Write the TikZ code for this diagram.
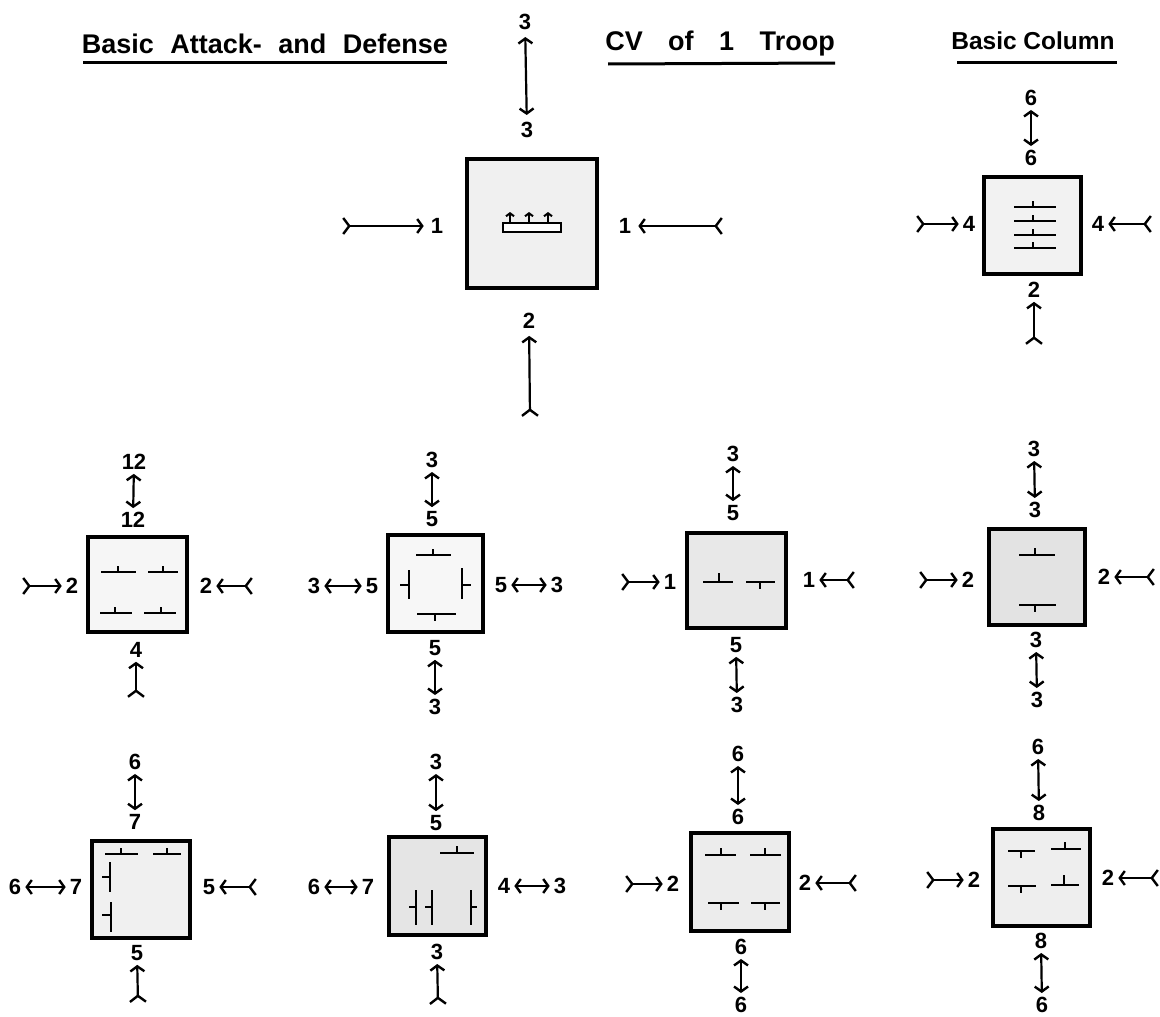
\documentclass[tikz,border=0pt]{standalone}
\usepackage{fontspec}
\setmainfont{Liberation Sans}
\usetikzlibrary{arrows.meta}
\tikzset{
 lab/.style={inner sep=4pt,font=\fontsize{22}{22}\selectfont\bfseries},
 biglab/.style={lab,inner sep=7pt},
 title/.style={inner sep=0pt,font=\fontsize{27}{27}\selectfont\bfseries},
 unitbox/.style={draw=black,line width=3.2pt,fill=#1},
 rule/.style={line width=3pt},
 sym/.style={line width=2.8pt},
 dbl/.style={line width=2.2pt,{Straight Barb[length=5pt,width=14pt,line width=2.4pt]}-{Straight Barb[length=5pt,width=14pt,line width=2.4pt]}},
 tailed/.style={line width=2.2pt,{Straight Barb[reversed,length=6pt,width=16pt,line width=2.4pt]}-{Straight Barb[length=5pt,width=14pt,line width=2.4pt]}}
}
% horizontal bar x1..x2 at y with a stem at xs reaching to ye
\newcommand\hb[5]{\draw[sym] (#1,#3)--(#2,#3) (#4,#3)--(#4,#5);}
% vertical bar y1..y2 at x with a stem at ys reaching to xe
\newcommand\vb[5]{\draw[sym] (#3,#1)--(#3,#2) (#3,#4)--(#5,#4);}
\begin{document}
\begin{tikzpicture}[x=1pt,y=-1pt]
\useasboundingbox (0,0) rectangle (1160,1017);
\fill[white] (0,0) rectangle (1160,1017);
% titles
\node[title] (t1) at (265,44) {Basic\hspace{9pt} Attack-\hspace{9pt} and\hspace{9pt} Defense};
\node[title] (t2) at (720,44) {CV\hspace{18pt} of\hspace{18pt} 1\hspace{18pt} Troop};
\node[title,font=\fontsize{24.5}{24.5}\selectfont\bfseries] (t3) at (1033,41) {Basic Column};
\draw[rule] (83,62)--(447,62);
\draw[rule] (608,64)--(835,63);
\draw[rule] (957,62)--(1117,62);
% top centre
\draw[unitbox=gray!12] (467,159) rectangle (597,288);
\node[biglab] (Tt) at (525,22) {3};
\node[biglab] (Tu) at (527,130) {3};
\draw[dbl] (Tt)--(Tu);
\node[biglab] (Tb) at (529,321) {2};
\coordinate (Tb0) at (530,417);
\draw[tailed] (Tb0)--(Tb);
\node[biglab] (Tl) at (437,226) {1};
\coordinate (Tl0) at (342,226);
\draw[tailed] (Tl0)--(Tl);
\node[biglab] (Tr) at (625,226) {1};
\coordinate (Tr0) at (723,226);
\draw[tailed] (Tr0)--(Tr);
\draw[line width=2.4pt,fill=white] (503,223) rectangle (561,232);
\foreach \x in {510,529,548}{\draw[line width=2pt,-{Straight Barb[length=3pt,width=8pt,line width=2pt]}] (\x,223)--(\x,212);}
% top right
\draw[unitbox=gray!10] (984,177) rectangle (1081,274);
\node[lab] (Rt) at (1031,98) {6};
\node[lab] (Ru) at (1031,158) {6};
\draw[dbl] (Rt)--(Ru);
\node[lab] (Rb) at (1034,290) {2};
\coordinate (Rb0) at (1034,345);
\draw[tailed] (Rb0)--(Rb);
\node[lab] (Rl) at (969,224) {4};
\coordinate (Rl0) at (916,224);
\draw[tailed] (Rl0)--(Rl);
\node[lab] (Rr) at (1098,224) {4};
\coordinate (Rr0) at (1152,224);
\draw[tailed] (Rr0)--(Rr);
\foreach \y in {207,221,235,248}{\hb{1014}{1056}{\y}{1033}{\y-6}}
% A
\draw[unitbox=gray!7] (88,537) rectangle (187,632);
\node[lab] (At) at (134,462) {12};
\node[lab] (Au) at (133,520) {12};
\draw[dbl] (At)--(Au);
\node[lab] (Ab) at (136,650) {4};
\coordinate (Ab0) at (136,698);
\draw[tailed] (Ab0)--(Ab);
\node[lab] (Al) at (72,586) {2};
\coordinate (Al0) at (22,586);
\draw[tailed] (Al0)--(Al);
\node[lab] (Ar) at (206,586) {2};
\coordinate (Ar0) at (253,586);
\draw[tailed] (Ar0)--(Ar);
\hb{101}{136}{572}{118}{566}\hb{148}{178}{572}{163}{566}
\hb{100}{132}{613}{115}{607}\hb{144}{176}{613}{161}{607}
% B
\draw[unitbox=gray!6] (388,535) rectangle (483,632);
\node[lab] (Bt) at (432,460) {3};
\node[lab] (Bu) at (432,519) {5};
\draw[dbl] (Bt)--(Bu);
\node[lab] (Bb) at (435,648) {5};
\node[lab] (Bc) at (435,707) {3};
\draw[dbl] (Bb)--(Bc);
\node[lab] (Bl) at (314,586) {3};
\node[lab] (Bm) at (372,586) {5};
\draw[dbl] (Bl)--(Bm);
\node[lab] (Br) at (501,585) {5};
\node[lab] (Bs) at (557,585) {3};
\draw[dbl] (Br)--(Bs);
\hb{416}{451}{555}{433}{549}\hb{417}{456}{614}{435}{621}
\vb{570}{599}{409}{585}{400}\vb{568}{599}{462}{585}{471}
% C
\draw[unitbox=gray!12] (92,841) rectangle (190,938);
\node[lab] (Ct) at (135,762) {6};
\node[lab] (Cu) at (135,822) {7};
\draw[dbl] (Ct)--(Cu);
\node[lab] (Cb) at (137,953) {5};
\coordinate (Cb0) at (138,1003);
\draw[tailed] (Cb0)--(Cb);
\node[lab] (Cl) at (15,887) {6};
\node[lab] (Cm) at (76,887) {7};
\draw[dbl] (Cl)--(Cm);
\node[lab] (Cr) at (209,887) {5};
\coordinate (Cr0) at (257,887);
\draw[tailed] (Cr0)--(Cr);
\hb{105}{138}{854}{121}{848}\hb{153}{181}{854}{167}{848}
\vb{862}{892}{110}{877}{102}\vb{902}{932}{111}{915}{102}
% D
\draw[unitbox=gray!20] (389,837) rectangle (486,935);
\node[lab] (Dt) at (436,762) {3};
\node[lab] (Du) at (436,823) {5};
\draw[dbl] (Dt)--(Du);
\node[lab] (Db) at (437,952) {3};
\coordinate (Db0) at (438,1005);
\draw[tailed] (Db0)--(Db);
\node[lab] (Dl) at (314,887) {6};
\node[lab] (Dm) at (368,887) {7};
\draw[dbl] (Dl)--(Dm);
\node[lab] (Dr) at (504,886) {4};
\node[lab] (Ds) at (560,886) {3};
\draw[dbl] (Dr)--(Ds);
\hb{440}{474}{853}{457}{846}
\vb{890}{925}{416}{907}{409}\vb{890}{925}{432}{907}{425}\vb{890}{925}{471}{907}{477}
% E
\draw[unitbox=gray!18] (687,533) rectangle (786,628);
\node[lab] (Et) at (733,454) {3};
\node[lab] (Eu) at (733,513) {5};
\draw[dbl] (Et)--(Eu);
\node[lab] (Eb) at (736,645) {5};
\node[lab] (Ec) at (737,705) {3};
\draw[dbl] (Eb)--(Ec);
\node[lab] (El) at (670,582) {1};
\coordinate (El0) at (621,582);
\draw[tailed] (El0)--(El);
\node[lab] (Er) at (809,580) {1};
\coordinate (Er0) at (855,580);
\draw[tailed] (Er0)--(Er);
\hb{703}{733}{582}{719}{573}\hb{746}{775}{582}{760}{589}
% F
\draw[unitbox=gray!22] (989,529) rectangle (1085,625);
\node[lab] (Ft) at (1034,449) {3};
\node[lab] (Fu) at (1035,510) {3};
\draw[dbl] (Ft)--(Fu);
\node[lab] (Fb) at (1036,640) {3};
\node[lab] (Fc) at (1037,700) {3};
\draw[dbl] (Fb)--(Fc);
\node[lab] (Fl) at (968,580) {2};
\coordinate (Fl0) at (919,580);
\draw[tailed] (Fl0)--(Fl);
\node[lab] (Fr) at (1104,577) {2};
\coordinate (Fr0) at (1155,577);
\draw[tailed] (Fr0)--(Fr);
\hb{1019}{1055}{555}{1035}{548}\hb{1019}{1056}{605}{1035}{612}
% G
\draw[unitbox=gray!15] (691,833) rectangle (789,931);
\node[lab] (Gt) at (738,754) {6};
\node[lab] (Gu) at (738,817) {6};
\draw[dbl] (Gt)--(Gu);
\node[lab] (Gb) at (741,947) {6};
\node[lab] (Gc) at (741,1005) {6};
\draw[dbl] (Gb)--(Gc);
\node[lab] (Gl) at (673,884) {2};
\coordinate (Gl0) at (625,884);
\draw[tailed] (Gl0)--(Gl);
\node[lab] (Gr) at (805,883) {2};
\coordinate (Gr0) at (857,883);
\draw[tailed] (Gr0)--(Gr);
\hb{705}{736}{855}{721}{848}\hb{750}{781}{855}{765}{848}
\hb{708}{739}{903}{721}{910}\hb{751}{780}{903}{765}{910}
% H
\draw[unitbox=gray!13] (993,829) rectangle (1090,926);
\node[lab] (Ht) at (1038,747) {6};
\node[lab] (Hu) at (1039,813) {8};
\draw[dbl] (Ht)--(Hu);
\node[lab] (Hb) at (1041,941) {8};
\node[lab] (Hc) at (1042,1005) {6};
\draw[dbl] (Hb)--(Hc);
\node[lab] (Hl) at (974,880) {2};
\coordinate (Hl0) at (926,880);
\draw[tailed] (Hl0)--(Hl);
\node[lab] (Hr) at (1108,878) {2};
\coordinate (Hr0) at (1159,878);
\draw[tailed] (Hr0)--(Hr);
\hb{1008}{1035}{851}{1021}{858}\hb{1051}{1081}{849}{1065}{842}
\hb{1008}{1036}{886}{1021}{893}\hb{1051}{1079}{885}{1064}{875}
\end{tikzpicture}
\end{document}
